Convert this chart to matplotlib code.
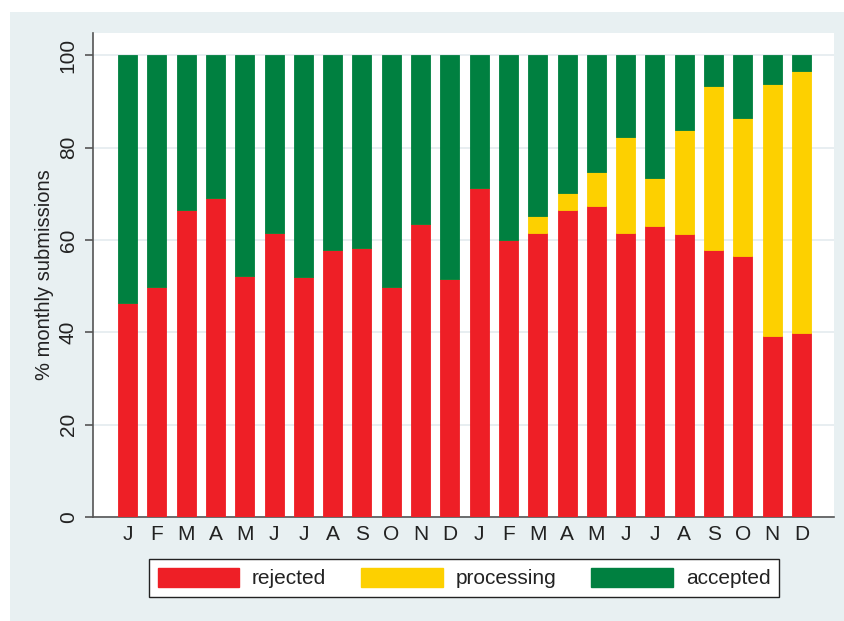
import numpy as np
import matplotlib
matplotlib.use("Agg")
import matplotlib.pyplot as plt
from matplotlib.patches import Rectangle, Patch

months = ["J", "F", "M", "A", "M", "J", "J", "A", "S", "O", "N", "D",
          "J", "F", "M", "A", "M", "J", "J", "A", "S", "O", "N", "D"]
rejected = [46.3, 49.9, 66.5, 69.1, 52.2, 61.6, 51.9, 57.9, 58.2, 49.9, 63.5, 51.5,
            71.3, 59.9, 61.4, 66.5, 67.4, 61.6, 63.1, 61.2, 57.9, 56.6, 39.2, 39.8]
processing = [0, 0, 0, 0, 0, 0, 0, 0, 0, 0, 0, 0,
              0, 0, 3.8, 3.6, 7.4, 20.6, 10.4, 22.5, 35.5, 29.8, 54.6, 56.7]
accepted = [53.7, 50.1, 33.5, 30.9, 47.8, 38.4, 48.1, 42.1, 41.8, 50.1, 36.5, 48.5,
            28.7, 40.1, 34.8, 29.9, 25.2, 17.8, 26.5, 16.3, 6.6, 13.6, 6.2, 3.5]
series = ["rejected", "processing", "accepted"]
colors = ["#EE1F26", "#FDD000", "#008040"]
yticks = [0, 20, 40, 60, 80, 100]

plt.rcParams['font.family'] = ['Liberation Sans', 'DejaVu Sans']

fig = plt.figure(figsize=(8.45, 6.21), dpi=100, facecolor="white")
bg = "#E8F0F2"
fig.add_artist(Rectangle((10 / 845, 0), 1, 1 - 12 / 621, transform=fig.transFigure,
                         facecolor=bg, edgecolor="none", zorder=-10))

ax = fig.add_axes([93 / 845, 1 - 517 / 621, (834 - 93) / 845, (517 - 33) / 621])
ax.set_facecolor("white")

x = np.arange(len(months))
bottom = np.zeros(len(months))
for name, vals, c in zip(series, [rejected, processing, accepted], colors):
    vals = np.array(vals)
    ax.bar(x, vals, width=0.65, bottom=bottom, color=c, edgecolor=c,
           linewidth=0.6, label=name, zorder=3)
    bottom += vals

ax.set_xlim(-1.18, 24.11)
ax.set_ylim(0, 104.8)
ax.set_xticks(x)
ax.set_xticklabels(months, fontsize=15, color="#222222")
ax.tick_params(axis="x", length=0, pad=6)
ax.set_yticks(yticks)
ax.set_yticklabels([str(t) for t in yticks], fontsize=15, rotation=90,
                   va="center", color="#222222")
ax.tick_params(axis="y", length=6, width=1.2, color="#555555", pad=5)
ax.yaxis.grid(True, color="#E6EDF0", linewidth=1.3, zorder=0)
ax.set_axisbelow(True)

for s in ["top", "right"]:
    ax.spines[s].set_visible(False)
for s in ["left", "bottom"]:
    ax.spines[s].set_color("#555555")
    ax.spines[s].set_linewidth(1.2)

ax.set_ylabel("% monthly submissions", fontsize=14.5, color="#222222")
ax.yaxis.set_label_coords(-0.052, 0.5)

handles = [Patch(facecolor=c, edgecolor=c) for c in colors]
leg = fig.legend(handles, series, ncol=3, loc="center",
                 bbox_to_anchor=(464 / 845, 1 - 578 / 621), fontsize=15,
                 frameon=True, fancybox=False, edgecolor="#222222", framealpha=1,
                 handlelength=3.93, handleheight=1.06, handletextpad=0.61,
                 columnspacing=1.67, borderpad=0.42)
leg.get_frame().set_linewidth(1.0)
for t in leg.get_texts():
    t.set_color("#222222")

fig.savefig("out.png", dpi=100, facecolor="white")
